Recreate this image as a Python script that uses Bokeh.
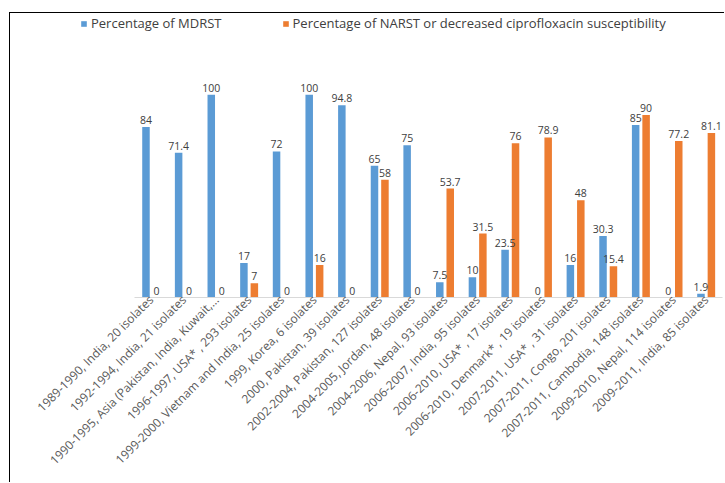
from math import pi

from bokeh.core.properties import value
from bokeh.embed import file_html
from bokeh.models import (ColumnDataSource, FixedTicker, LabelSet, Legend,
                          LegendItem, Range1d)
from bokeh.plotting import figure
from bokeh.resources import INLINE

# Study period, location and number of isolates for each survey
studies = [
    "1989-1990, India, 20 isolates",
    "1992-1994, India, 21 isolates",
    "1990-1995, Asia (Pakistan, India, Kuwait,...",
    "1996-1997, USA* , 293 isolates",
    "1999-2000, Vietnam and India, 25 isolates",
    "1999, Korea, 6 isolates",
    "2000, Pakistan, 39 isolates",
    "2002-2004, Pakistan, 127 isolates",
    "2004-2005, Jordan, 48 isolates",
    "2004-2006, Nepal, 93 isolates",
    "2006-2007, India, 95 isolates",
    "2006-2010, USA* , 17 isolates",
    "2006-2010, Denmark* , 19 isolates",
    "2007-2011, USA* , 31 isolates",
    "2007-2011, Congo, 201 isolates",
    "2007-2011, Cambodia, 148 isolates",
    "2009-2010, Nepal, 114 isolates",
    "2009-2011, India, 85 isolates",
]

# Percentage of multidrug-resistant S. Typhi
mdrst = [84, 71.4, 100, 17, 72, 100, 94.8, 65, 75, 7.5, 10, 23.5, 0, 16, 30.3, 85, 0, 1.9]
# Percentage of nalidixic-acid-resistant S. Typhi / reduced ciprofloxacin susceptibility
narst = [0, 0, 0, 7, 0, 16, 0, 58, 0, 53.7, 31.5, 76, 78.9, 48, 15.4, 90, 77.2, 81.1]

series_names = ["Percentage of MDRST",
                "Percentage of NARST or decreased ciprofloxacin susceptibility"]

BLUE = "#5B9BD5"
ORANGE = "#ED7D31"
TEXT = "#404040"
FONT = "Open Sans"

n = len(studies)
idx = list(range(n))
offset = 0.16
bar_w = 0.23

src_a = ColumnDataSource(dict(x=[i - offset for i in idx], top=mdrst,
                              txt=[f"{v:g}" for v in mdrst]))
src_b = ColumnDataSource(dict(x=[i + offset for i in idx], top=narst,
                              txt=[f"{v:g}" for v in narst]))

p = figure(width=715, height=470, output_backend="svg", toolbar_location=None,
           x_range=Range1d(-4.31, n - 1 + 0.5), y_range=Range1d(0, 140),
           y_axis_location=None, min_border_left=0, min_border_right=3,
           min_border_top=0, min_border_bottom=186)
p.margin = (12, 0, 0, 9)
p.styles = {"border-left": "1px solid #000000", "border-top": "1px solid #000000"}
p.outline_line_color = None
p.grid.visible = False
p.background_fill_color = "white"
p.border_fill_color = "white"

ra = p.vbar(x="x", top="top", width=bar_w, source=src_a, color=BLUE, line_color=None)
rb = p.vbar(x="x", top="top", width=bar_w, source=src_b, color=ORANGE, line_color=None)

# value labels above every bar
for src in (src_a, src_b):
    p.add_layout(LabelSet(x="x", y="top", text="txt", source=src, y_offset=3,
                          text_align="center", text_baseline="bottom",
                          text_font=value(FONT), text_font_size="10.5px",
                          text_color=TEXT))

ax = p.xaxis[0]
ax.ticker = FixedTicker(ticks=idx)
ax.major_label_overrides = {i: s for i, s in enumerate(studies)}
ax.major_label_orientation = pi / 4
ax.major_label_text_font = FONT
ax.major_label_text_font_size = "12px"
ax.major_label_text_color = "#595959"
ax.major_label_standoff = 0
ax.major_tick_out = 0
ax.major_tick_in = 0
ax.major_tick_line_color = None
ax.minor_tick_line_color = None
ax.axis_line_color = "#d9d9d9"
ax.bounds = (-0.5, n - 0.5)

legend = Legend(items=[LegendItem(label=series_names[0], renderers=[ra]),
                       LegendItem(label=series_names[1], renderers=[rb])],
                orientation="horizontal", location=(70, 265),
                glyph_width=7, glyph_height=7, label_height=14, label_standoff=4,
                spacing=60, padding=0, margin=0, border_line_color=None,
                background_fill_alpha=0,
                label_text_font=FONT, label_text_font_size="13px",
                label_text_color=TEXT)
p.add_layout(legend)

open("out.html", "w").write(file_html(p, INLINE))
